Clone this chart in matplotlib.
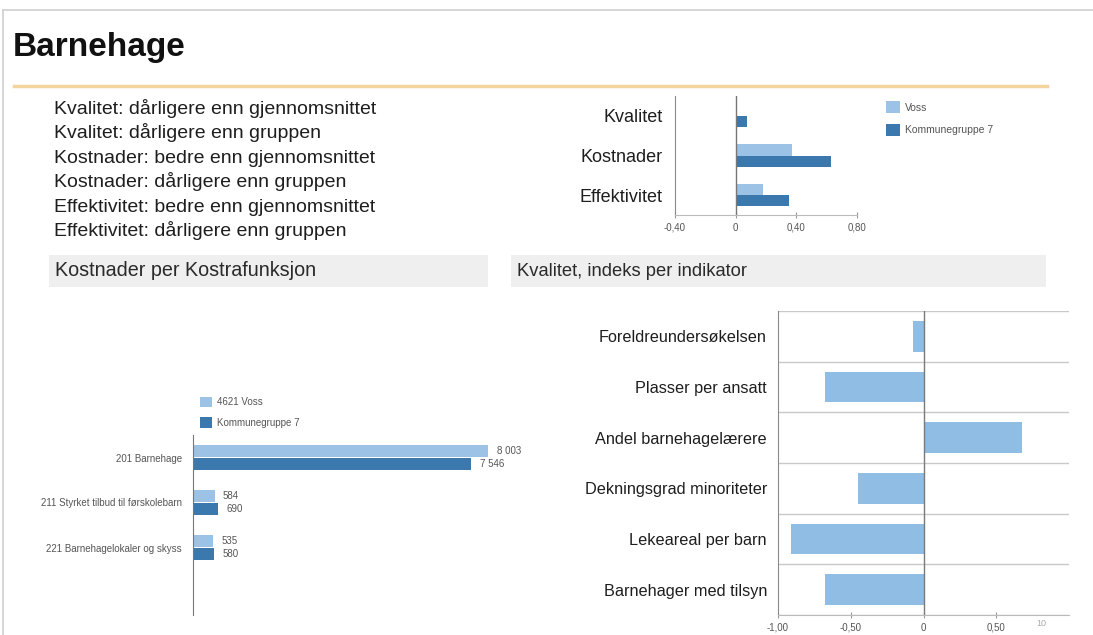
import matplotlib
matplotlib.use("Agg")
import matplotlib.pyplot as plt
import numpy as np
from matplotlib.patches import Rectangle
from matplotlib.lines import Line2D

plt.rcParams['font.family'] = ['Liberation Sans', 'DejaVu Sans']

# ---- data ----
summary_lines = [
    "Kvalitet: dårligere enn gjennomsnittet",
    "Kvalitet: dårligere enn gruppen",
    "Kostnader: bedre enn gjennomsnittet",
    "Kostnader: dårligere enn gruppen",
    "Effektivitet: bedre enn gjennomsnittet",
    "Effektivitet: dårligere enn gruppen",
]

index_categories = ["Kvalitet", "Kostnader", "Effektivitet"]
index_voss = [0.0, 0.37, 0.18]
index_group = [0.075, 0.63, 0.35]
index_ticks = [-0.40, 0.0, 0.40, 0.80]
index_ticklabels = ["-0,40", "0", "0,40", "0,80"]

cost_categories = ["201 Barnehage", "211 Styrket tilbud til førskolebarn",
                   "221 Barnehagelokaler og skyss"]
cost_voss = [8003, 584, 535]
cost_group = [7546, 690, 580]

quality_indicators = ["Foreldreundersøkelsen", "Plasser per ansatt",
                      "Andel barnehagelærere", "Dekningsgrad minoriteter",
                      "Lekeareal per barn", "Barnehager med tilsyn"]
quality_values = [-0.07, -0.68, 0.68, -0.45, -0.91, -0.68]
quality_ticks = [-1.0, -0.5, 0.0, 0.5]
quality_ticklabels = ["-1,00", "-0,50", "0", "0,50"]

LIGHT = "#9cc3e6"
DARK = "#3b78ad"
QBAR = "#8fbde3"
TEXT = "#1e1e1e"
SMALL = "#555555"

W, H = 1093, 635
fig = plt.figure(figsize=(W / 100, H / 100), dpi=100)
fig.patch.set_facecolor("white")


def rect(l, t, r, b):
    return [l / W, 1 - b / H, (r - l) / W, (b - t) / H]


def fx(x):
    return x / W


def fy(y):
    return 1 - y / H


# slide frame
fig.add_artist(Line2D([fx(3), fx(3)], [fy(10), fy(635)], color="#cfcfcf", lw=1.2))
fig.add_artist(Line2D([fx(3), 1], [fy(10), fy(10)], color="#cfcfcf", lw=1.2))

# title and rule
fig.text(fx(13), fy(56), "Barnehage", fontsize=24, fontweight="bold",
         color="#111111", va="baseline", ha="left")
fig.add_artist(Line2D([fx(14), fx(1047)], [fy(86), fy(86)], color="#f3d49e", lw=2.5))

for i, line in enumerate(summary_lines):
    fig.text(fx(54), fy(114 + 24.4 * i), line, fontsize=14, color=TEXT,
             va="baseline", ha="left")

# section headers
for (l, r, tx, size, label) in [(49, 488, 55, 14.2, "Kostnader per Kostrafunksjon"),
                                (511, 1046, 517, 13.2, "Kvalitet, indeks per indikator")]:
    fig.add_artist(Rectangle((fx(l), fy(287)), fx(r - l), (287 - 255) / H,
                             facecolor="#efefef", edgecolor="none",
                             transform=fig.transFigure))
    fig.text(fx(tx), fy(276), label, fontsize=size, color="#2a2a2a",
             va="baseline", ha="left")

# ---- index chart (top right) ----
ax1 = fig.add_axes(rect(675, 96, 857, 215))
y1 = np.arange(len(index_categories))
h1 = 0.28
b_v1 = ax1.barh(y1 - h1 / 2, index_voss, height=h1, color=LIGHT, label="Voss")
b_g1 = ax1.barh(y1 + h1 / 2, index_group, height=h1, color=DARK,
                label="Kommunegruppe 7")
ax1.set_xlim(-0.40, 0.80)
ax1.set_ylim(len(index_categories) - 0.5, -0.5)
ax1.axvline(0, color="#777777", lw=1.0)
for s in ["top", "right"]:
    ax1.spines[s].set_visible(False)
ax1.spines["left"].set_color("#8a8a8a")
ax1.spines["bottom"].set_color("#bbbbbb")
ax1.set_yticks(y1)
ax1.set_yticklabels(index_categories, fontsize=13, color=TEXT)
ax1.tick_params(axis="y", length=0, pad=9)
ax1.set_xticks(index_ticks)
ax1.set_xticklabels(index_ticklabels, fontsize=7, color=SMALL)
ax1.tick_params(axis="x", direction="inout", length=5, color="#999999", pad=3)
ax1.legend(handles=[b_v1, b_g1], loc="upper left",
           bbox_to_anchor=(fx(877), fy(92)), bbox_transform=fig.transFigure,
           frameon=False, fontsize=7.5, labelcolor=SMALL, handlelength=1.3,
           handleheight=1.3, labelspacing=1.1, handletextpad=0.45)

# ---- cost chart (bottom left) ----
ax2 = fig.add_axes(rect(193, 435, 525, 615))
y2 = np.arange(len(cost_categories))
h2 = 0.27
b_v2 = ax2.barh(y2 - 0.145, cost_voss, height=h2, color=LIGHT, label="4621 Voss")
b_g2 = ax2.barh(y2 + 0.145, cost_group, height=h2, color=DARK,
                label="Kommunegruppe 7")
ax2.set_xlim(0, 9000)
ax2.set_ylim(3.5, -0.5)
for s in ["top", "right", "bottom"]:
    ax2.spines[s].set_visible(False)
ax2.spines["left"].set_color("#777777")
ax2.set_xticks([])
ax2.set_yticks(y2)
ax2.set_yticklabels(cost_categories, fontsize=7, color=SMALL)
ax2.tick_params(axis="y", length=0, pad=8)


def fmt_nok(v):
    return f"{v:,}".replace(",", " ")


for bars in (b_v2, b_g2):
    for bar in bars:
        v = bar.get_width()
        ax2.annotate(fmt_nok(int(v)), (v, bar.get_y() + bar.get_height() / 2),
                     xytext=(6, 0), textcoords="offset points",
                     fontsize=7, color=SMALL, va="center", ha="left")
ax2.legend(handles=[b_v2, b_g2], loc="upper left",
           bbox_to_anchor=(fx(191), fy(388)), bbox_transform=fig.transFigure,
           frameon=False, fontsize=7, labelcolor=SMALL, handlelength=1.3,
           handleheight=1.3, labelspacing=1.0, handletextpad=0.45)

# ---- quality chart (bottom right) ----
ax3 = fig.add_axes(rect(778, 311, 1069, 615))
y3 = np.arange(len(quality_indicators))
ax3.barh(y3, quality_values, height=0.6, color=QBAR)
ax3.set_xlim(-1.0, 1.0)
ax3.set_ylim(len(quality_indicators) - 0.5, -0.5)
ax3.set_yticks(np.arange(len(quality_indicators) + 1) - 0.5, minor=True)
ax3.grid(axis="y", which="minor", color="#c9c9c9", lw=1.0)
ax3.tick_params(axis="y", which="minor", length=0)
ax3.set_axisbelow(True)
ax3.axvline(0, color="#7a7a7a", lw=1.0)
for s in ["top", "right"]:
    ax3.spines[s].set_visible(False)
ax3.spines["left"].set_color("#8a8a8a")
ax3.spines["bottom"].set_color("#bbbbbb")
ax3.set_yticks(y3)
ax3.set_yticklabels(quality_indicators, fontsize=11.7, color=TEXT)
ax3.tick_params(axis="y", which="major", length=0, pad=8)
ax3.set_xticks(quality_ticks)
ax3.set_xticklabels(quality_ticklabels, fontsize=7, color=SMALL)
ax3.tick_params(axis="x", direction="inout", length=5, color="#999999", pad=3)

# page number
fig.text(fx(1041), fy(624), "10", fontsize=6.5, color="#aaaaaa", ha="center", va="center")

fig.savefig("out.png", dpi=100)
